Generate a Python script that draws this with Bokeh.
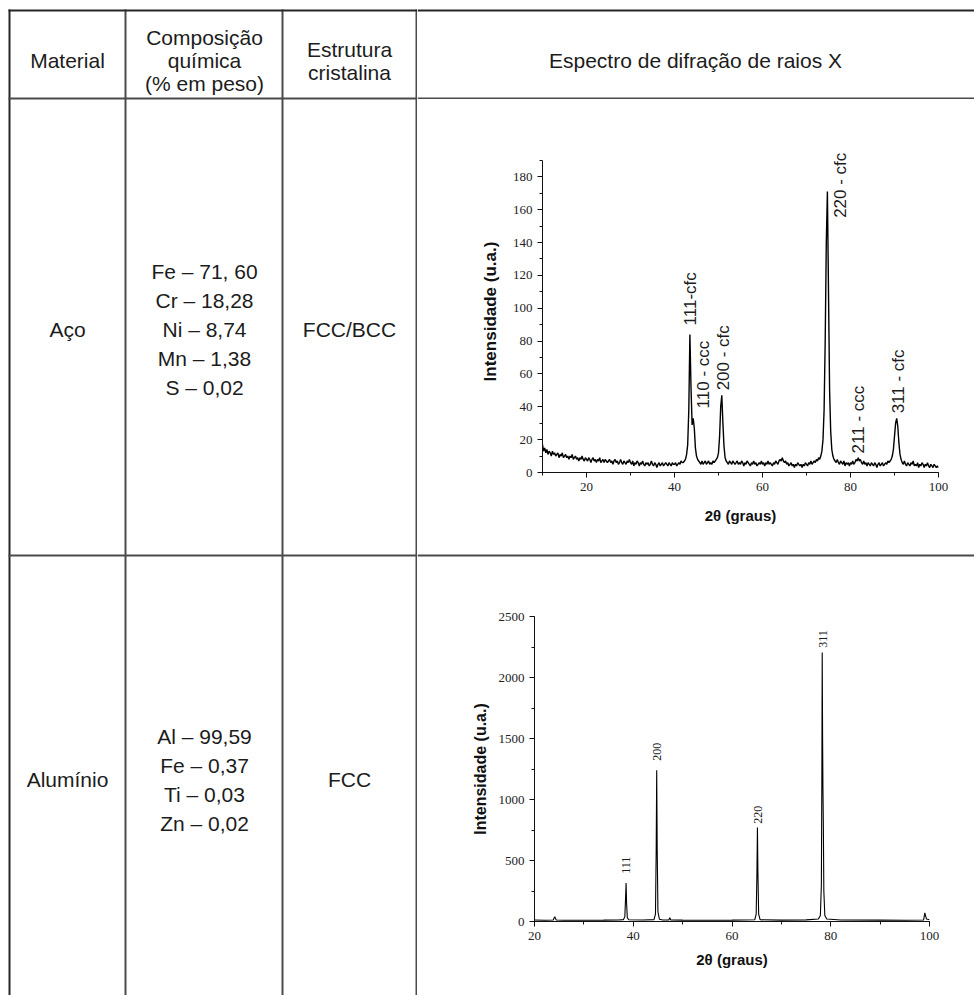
import numpy as np
from bokeh.plotting import figure
from bokeh.layouts import row, column
from bokeh.models import Range1d, ColumnDataSource, SingleIntervalTicker
from bokeh.core.properties import value
from bokeh.embed import file_html
from bokeh.resources import INLINE

# ---------------- data ----------------
column_headers = [["Material"], ["Composição", "química", "(% em peso)"], ["Estrutura", "cristalina"]]
spectrum_header = "Espectro de difração de raios X"
materials = ["Aço", "Alumínio"]
compositions = [
    ["Fe – 71, 60", "Cr – 18,28", "Ni – 8,74", "Mn – 1,38", "S – 0,02"],
    ["Al – 99,59", "Fe – 0,37", "Ti – 0,03", "Zn – 0,02"],
]
structures = ["FCC/BCC", "FCC"]

# Steel (Aço) XRD pattern, read every 0.25 degrees from 10 to 100
steel_2theta_start = 10.0
steel_2theta_step = 0.25
steel_intensity = [
    17, 13, 15, 12, 14, 11, 13, 12, 10, 13, 11, 12, 10, 11, 12, 9, 11, 10, 12, 9,
    10, 11, 9, 10, 8, 10, 9, 11, 8, 9, 10, 8, 9, 7, 9, 8, 10, 8, 7, 9,
    8, 7, 9, 8, 6, 8, 9, 7, 8, 6, 8, 7, 9, 6, 7, 8, 6, 8, 7, 6,
    7, 8, 6, 7, 5, 7, 8, 6, 7, 5, 6, 8, 6, 5, 7, 6, 5, 7, 6, 8,
    6, 5, 7, 4, 6, 5, 7, 6, 4, 6, 5, 7, 5, 4, 6, 5, 6, 4, 5, 7,
    5, 4, 6, 5, 3, 5, 6, 4, 5, 6, 4, 5, 6, 5, 4, 6, 5, 4, 6, 5,
    5, 6, 4, 5, 6, 5, 7, 6, 6, 7, 8, 11, 17, 38, 84, 52, 29, 33, 27, 15,
    10, 8, 7, 6, 5, 7, 5, 6, 7, 5, 6, 7, 5, 6, 5, 7, 6, 7, 8, 9,
    12, 22, 40, 47, 30, 16, 9, 7, 6, 5, 7, 6, 5, 7, 6, 5, 6, 7, 5, 6,
    5, 7, 6, 4, 6, 5, 7, 6, 5, 4, 6, 5, 7, 5, 6, 4, 5, 6, 5, 7,
    5, 6, 4, 6, 5, 7, 5, 6, 5, 4, 6, 5, 7, 6, 5, 7, 8, 7, 9, 7,
    6, 7, 5, 6, 4, 5, 6, 4, 5, 3, 5, 4, 6, 5, 4, 5, 3, 5, 4, 6,
    5, 4, 6, 5, 7, 5, 6, 7, 6, 8, 7, 9, 8, 10, 13, 20, 38, 80, 140, 171,
    110, 50, 25, 14, 10, 8, 7, 6, 8, 6, 5, 7, 6, 5, 7, 4, 6, 5, 6, 4,
    6, 5, 7, 5, 6, 8, 7, 9, 7, 8, 6, 5, 7, 5, 6, 4, 6, 5, 4, 6,
    5, 4, 6, 5, 3, 5, 6, 4, 5, 6, 4, 5, 6, 5, 7, 6, 7, 8, 10, 14,
    22, 30, 33, 28, 18, 11, 8, 6, 5, 7, 5, 4, 6, 5, 4, 6, 5, 7, 4, 5,
    4, 6, 3, 5, 4, 6, 5, 3, 5, 4, 6, 4, 3, 5, 4, 3, 5, 4, 3, 4,
    3,
]
steel_peak_labels = ["111-cfc", "110 - ccc", "200 - cfc", "220 - cfc", "211 - ccc", "311 - cfc"]
steel_peak_label_x = [43.6, 46.6, 51.1, 77.7, 81.8, 90.9]
steel_peak_label_y = [89.5, 39, 50, 155, 11.6, 36]

# Aluminium (Alumínio) XRD pattern
al_2theta = [20, 22, 23.8, 24.1, 24.4, 26, 30, 34, 37, 38.0, 38.3, 38.45, 38.55, 38.65, 38.8, 39.1,
             42, 44.2, 44.5, 44.65, 44.75, 44.85, 45.0, 45.3, 46.0, 47.2, 47.4, 47.6, 50, 55, 60,
             64.6, 64.9, 65.05, 65.15, 65.25, 65.4, 65.7, 70, 75, 77.5, 77.9, 78.1, 78.2, 78.27,
             78.35, 78.42, 78.5, 78.6, 78.8, 79.2, 82, 90, 95, 98.8, 99.05, 99.25, 99.4, 100]
al_intensity = [12, 10, 12, 40, 12, 10, 10, 11, 12, 15, 40, 200, 315, 150, 30, 14,
                12, 15, 60, 600, 1240, 600, 80, 18, 12, 12, 30, 12, 11, 10, 11,
                14, 60, 400, 770, 400, 60, 14, 11, 13, 20, 50, 300, 1200, 2205,
                1500, 1090, 800, 250, 50, 20, 12, 11, 10, 12, 70, 40, 20, 15]
al_peak_labels = ["111", "200", "220", "311"]
al_peak_label_x = [38.55, 44.8, 65.3, 78.5]
al_peak_label_y = [391, 1317, 801, 2243]

# ---------------- styling / layout ----------------
FONT = "Liberation Sans"
SERIF = "Liberation Serif"
LINE_DARK = "#262626"
LINE = "#4a4a4a"
TXT = "#1c1c1c"
TABLE_FONT_SIZE = "21px"


def blank(width, height, xr, yr):
    p = figure(width=width, height=height, x_range=Range1d(*xr), y_range=Range1d(*yr),
               x_axis_location=None, y_axis_location=None, toolbar_location=None,
               output_backend="svg", min_border=0, frame_align=False)
    p.grid.visible = False
    p.outline_line_color = None
    p.background_fill_color = "white"
    p.border_fill_color = "white"
    return p


def add_text(p, xs, ys, texts, size=TABLE_FONT_SIZE, font=FONT, angle=0.0, align="center", baseline="middle"):
    src = ColumnDataSource(dict(x=xs, y=ys, t=texts))
    p.text(x="x", y="y", text="t", source=src, angle=angle, text_align=align, text_baseline=baseline,
           text_font=value(font), text_font_size=value(size), text_color=TXT)


# ---- left part of the table: three text columns (page x 0..417) ----
left = blank(417, 995, (0, 417), (995, 0))
vx = [8, 124, 281, 415]
left.quad(left=vx, right=[v + 2 for v in vx], top=[9] * 4, bottom=[995] * 4,
          fill_color=[LINE_DARK, LINE, LINE, LINE], line_color=None)
hy = [9, 97, 554]
left.quad(left=[8] * 3, right=[417] * 3, top=hy, bottom=[h + 2 for h in hy],
          fill_color=[LINE_DARK, LINE, LINE], line_color=None)

col_centers = [67, 204, 349]
header_mid, header_gap = 60, 23
row_mids = [329, 779]
comp_gap = 29

xs, ys, ts = [], [], []
for cx, lines in zip(col_centers, column_headers):
    n = len(lines)
    for i, t in enumerate(lines):
        xs.append(cx); ys.append(header_mid + (i - (n - 1) / 2) * header_gap); ts.append(t)
for r, mid in enumerate(row_mids):
    xs.append(col_centers[0]); ys.append(mid); ts.append(materials[r])
    xs.append(col_centers[2]); ys.append(mid); ts.append(structures[r])
    lines = compositions[r]
    n = len(lines)
    for i, t in enumerate(lines):
        xs.append(col_centers[1]); ys.append(mid + (i - (n - 1) / 2) * comp_gap); ts.append(t)
add_text(left, xs, ys, ts)

# ---- right header (page x 417..974, y 0..99) ----
RW = 557
hdr = blank(RW, 99, (417, 974), (99, 0))
hdr.quad(left=[417, 417], right=[974, 974], top=[9, 97], bottom=[11, 99],
         fill_color=[LINE_DARK, LINE], line_color=None)
add_text(hdr, [695], [60], [spectrum_header])


def xrd_fig(height, xr, yr, mb, interval_x, interval_y, ybounds, title_standoff_x, title_standoff_y, ytitle_size):
    p = figure(width=RW, height=height, x_range=Range1d(*xr), y_range=Range1d(*yr),
               toolbar_location=None, output_backend="svg", frame_align=False,
               min_border_left=mb[0], min_border_right=mb[1], min_border_top=mb[2], min_border_bottom=mb[3])
    p.grid.visible = False
    p.outline_line_color = None
    p.background_fill_color = "white"
    p.border_fill_color = "white"
    p.xaxis.ticker = SingleIntervalTicker(interval=interval_x, num_minor_ticks=2)
    p.yaxis.ticker = SingleIntervalTicker(interval=interval_y, num_minor_ticks=2)
    p.yaxis.bounds = ybounds
    for ax in (p.xaxis, p.yaxis):
        ax.axis_line_color = "#111111"
        ax.major_tick_line_color = "#111111"
        ax.minor_tick_line_color = "#111111"
        ax.major_tick_in = 0
        ax.major_tick_out = 5
        ax.minor_tick_in = 0
        ax.minor_tick_out = 3
        ax.major_label_text_font = SERIF
        ax.major_label_text_font_size = "13px"
        ax.major_label_text_color = "#222222"
        ax.major_label_standoff = 5
        ax.axis_label_text_font = FONT
        ax.axis_label_text_font_style = "bold"
        ax.axis_label_text_color = "#111111"
    p.xaxis.axis_label = "2θ (graus)"
    p.yaxis.axis_label = "Intensidade (u.a.)"
    p.xaxis.axis_label_text_font_size = "15px"
    p.yaxis.axis_label_text_font_size = ytitle_size
    p.xaxis.axis_label_standoff = title_standoff_x
    p.yaxis.axis_label_standoff = title_standoff_y
    return p


# ---- chart 1: steel (page y 99..540) ----
steel_2theta = steel_2theta_start + steel_2theta_step * np.arange(len(steel_intensity))
c1 = xrd_fig(441, (10, 100), (0, 196), (125, 36, 51, 68), 20, 20, (0, 190), 13, 10, "17px")
c1.line(steel_2theta, steel_intensity, line_color="black", line_width=1.4)
add_text(c1, steel_peak_label_x, steel_peak_label_y, steel_peak_labels, size="17px",
         angle=np.pi / 2, align="left", baseline="middle")

# ---- separator strip between the two rows (page y 540..570, line at 554..556) ----
sep = blank(RW, 30, (417, 974), (570, 540))
sep.quad(left=[417], right=[974], top=[554], bottom=[556], fill_color=[LINE], line_color=None)

# ---- chart 2: aluminium (page y 570..995) ----
c2 = xrd_fig(425, (20, 100), (0, 2500), (117, 45, 46, 74), 20, 500, (0, 2500), 8, 7, "16px")
c2.line(al_2theta, al_intensity, line_color="black", line_width=1.1)
add_text(c2, al_peak_label_x, al_peak_label_y, al_peak_labels, size="12px", font=SERIF,
         angle=np.pi / 2, align="left", baseline="middle")

p = row(left, column(hdr, c1, sep, c2))
open("out.html", "w").write(file_html(p, INLINE))
